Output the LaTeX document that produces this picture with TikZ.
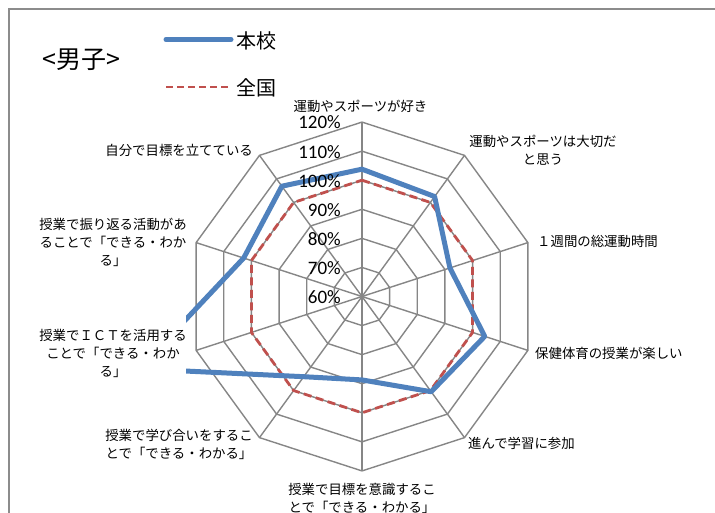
\documentclass[tikz,border=0pt]{standalone}
\usepackage{fontspec}
\newfontfamily\jp{Noto Sans CJK JP}
\newfontfamily\numfont{Carlito}
\definecolor{seriesblue}{HTML}{4F81BD}
\definecolor{seriesred}{HTML}{C0504D}
\definecolor{gridgray}{HTML}{868686}
\definecolor{framegray}{HTML}{8C8C8C}
\begin{document}
\begin{tikzpicture}[x=1pt,y=-1pt,
  gridline/.style={draw=gridgray,line width=1.4pt},
  blueline/.style={draw=seriesblue,line width=5pt,line join=round},
  redline/.style={draw=seriesred,line width=2.8pt,dash pattern=on 8pt off 4.5pt},
  cat/.style={font=\jp\fontsize{13.4}{18}\selectfont,inner sep=0pt,align=center},
  pct/.style={font=\numfont\fontsize{19}{22}\selectfont,inner sep=0pt,anchor=east},
  legtext/.style={font=\jp\fontsize{20}{24}\selectfont,inner sep=0pt,anchor=west},
  titletext/.style={font=\jp\fontsize{25}{28}\selectfont,inner sep=0pt}]
\useasboundingbox (0,0) rectangle (715,513);
\clip (0,0) rectangle (715,513);
\fill[white] (0,0) rectangle (715,513);
\draw[framegray,line width=2pt] (9,9) rectangle (760,560);
% centre and grid
\coordinate (c) at (362,296.5);
\foreach \k in {0,...,6}{
  \foreach \i in {0,...,9}{
    \coordinate (g\k-\i) at ({362+29.07*\k*sin(36*\i)},{296.5-29.07*\k*cos(36*\i)});
  }
}
\foreach \k in {1,...,6}{
  \draw[gridline] (g\k-0) \foreach \i in {1,...,9}{ -- (g\k-\i) } -- cycle;
}
\foreach \i in {0,...,9}{ \draw[gridline] (c) -- (g6-\i); }
% national (all 100%)
\draw[redline] (g4-0) \foreach \i in {1,...,9}{ -- (g4-\i) } -- cycle;
% school
\foreach \v [count=\i from 0] in {103.8,102.5,91.8,104.4,100.5,88.7,94.1,140.5,102.8,106.9}{
  \coordinate (b\i) at ({362+2.907*(\v-60)*sin(36*\i)},{296.5-2.907*(\v-60)*cos(36*\i)});
}
\begin{scope}
  \clip (186,95) rectangle (560,495);
  \draw[blueline] (b0) \foreach \i in {1,...,9}{ -- (b\i) } -- cycle;
\end{scope}
% percent labels
\foreach \k/\t in {0/60,1/70,2/80,3/90,4/100,5/110,6/120}{
  \node[pct] (p\k) at (341,{297-29.07*\k}) {\t\%};
}
% category labels
\node[cat] (c0) at (360.5,106) {運動やスポーツが好き};
\node[cat] (c1) at (543,150.5) {運動やスポーツは大切だ\\と思う};
\node[cat,anchor=west] (c2) at (537,241) {１週間の総運動時間};
\node[cat,anchor=west] (c3) at (535,353) {保健体育の授業が楽しい};
\node[cat,anchor=west] (c4) at (468,443) {進んで学習に参加};
\node[cat] (c5) at (362,498.5) {授業で目標を意識するこ\\とで「できる・わかる」};
\node[cat] (c6) at (179,444) {授業で学び合いをするこ\\とで「できる・わかる」};
\node[cat] (c7) at (113,353.5) {授業でＩＣＴを活用する\\ことで「できる・わか\\る」};
\node[cat] (c8) at (113,242) {授業で振り返る活動があ\\ることで「できる・わか\\る」};
\node[cat,anchor=east] (c9) at (253,150) {自分で目標を立てている};
% legend
\coordinate (la) at (166,39.5);
\coordinate (lb) at (231,39.5);
\draw[blueline,line cap=round] (la) -- (lb);
\node[legtext] (lt1) at (236,41) {本校};
\coordinate (lc) at (166,87);
\coordinate (ld) at (231,87);
\draw[redline,dash pattern=on 7pt off 4pt] (lc) -- (ld);
\node[legtext] (lt2) at (236,88) {全国};
% title
\node[titletext] (title) at (81,60) {<男子>};
\end{tikzpicture}
\end{document}
